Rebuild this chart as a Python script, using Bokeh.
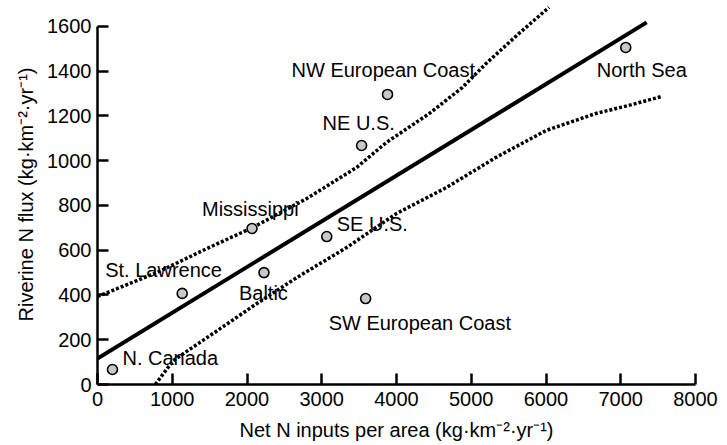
from bokeh.plotting import figure
from bokeh.models import ColumnDataSource, FixedTicker, Range1d
from bokeh.core.properties import value
from bokeh.embed import file_html
from bokeh.resources import INLINE

# ---- data ----
regions = ["N. Canada", "St. Lawrence", "Mississippi", "Baltic", "SE U.S.",
           "SW European Coast", "NE U.S.", "NW European Coast", "North Sea"]
net_inputs = [200, 1133, 2067, 2227, 3067, 3587, 3533, 3880, 7067]
river_flux = [67, 407, 697, 500, 661, 384, 1068, 1296, 1506]

fit_x = [0, 7347]
fit_y = [116, 1618]

upper_x = [0, 800, 1467, 2080, 2800, 3467, 3867, 4440, 4880, 5200, 5640, 6040]
upper_y = [393, 501, 608, 702, 831, 970, 1082, 1211, 1327, 1435, 1569, 1685]

lower_x = [773, 1013, 1547, 2133, 2667, 3333, 4000, 4667, 5333, 6000, 6667, 7107, 7547]
lower_y = [0, 107, 228, 362, 478, 612, 764, 880, 1015, 1135, 1211, 1247, 1287]

x_ticks = [0, 1000, 2000, 3000, 4000, 5000, 6000, 7000, 8000]
y_ticks = [0, 200, 400, 600, 800, 1000, 1200, 1400, 1600]

# ---- label placement (screen-pixel offsets from each point, layout only) ----
label_dx = [10, -77, -50, -25, 10, -37, -39, -96, -29]
label_dy = [-12, -23, -20, 20, -13, 24, -22, -24, 23]

FONT = "Liberation Sans"

p = figure(width=727, height=445, output_backend="svg", toolbar_location=None,
           x_range=Range1d(0, 8000), y_range=Range1d(0, 1698),
           min_border_left=97, min_border_right=32, min_border_top=4,
           min_border_bottom=61)
p.outline_line_color = None
p.background_fill_color = "white"
p.border_fill_color = "white"
p.xgrid.visible = False
p.ygrid.visible = False

src = ColumnDataSource(dict(x=net_inputs, y=river_flux, name=regions,
                            dx=label_dx, dy=label_dy))

p.line(fit_x, fit_y, line_color="black", line_width=4)
p.line(upper_x, upper_y, line_color="black", line_width=3.5, line_dash="3 2")
p.line(lower_x, lower_y, line_color="black", line_width=3.5, line_dash="3 2")

p.scatter("x", "y", source=src, marker="circle", size=10,
          fill_color="#c8c8c8", line_color="black", line_width=1.6)
p.text("x", "y", text="name", source=src, x_offset="dx", y_offset="dy",
       text_font=value(FONT), text_font_size="20px", text_color="black",
       text_align="left", text_baseline="middle")

for ax, ticks, bounds in ((p.xaxis[0], x_ticks, (0, 8000)),
                          (p.yaxis[0], y_ticks, (0, 1600))):
    ax.ticker = FixedTicker(ticks=ticks)
    ax.bounds = bounds
    ax.axis_line_width = 2.5
    ax.axis_line_color = "black"
    ax.major_tick_line_width = 2.5
    ax.major_tick_line_color = "black"
    ax.major_tick_in = 11
    ax.major_tick_out = 0
    ax.minor_tick_line_color = None
    ax.major_label_text_font = FONT
    ax.major_label_text_font_size = "20px"
    ax.major_label_text_color = "black"
    ax.axis_label_text_font = FONT
    ax.axis_label_text_font_size = "20px"
    ax.axis_label_text_font_style = "normal"
    ax.axis_label_text_color = "black"

p.xaxis.axis_label = "Net N inputs per area (kg·km⁻²·yr⁻¹)"
p.yaxis.axis_label = "Riverine N flux (kg·km⁻²·yr⁻¹)"
p.xaxis.major_label_standoff = 7
p.xaxis.axis_label_standoff = 10
p.yaxis.major_label_standoff = 6
p.yaxis.axis_label_standoff = 7

open("out.html", "w").write(file_html(p, INLINE))
